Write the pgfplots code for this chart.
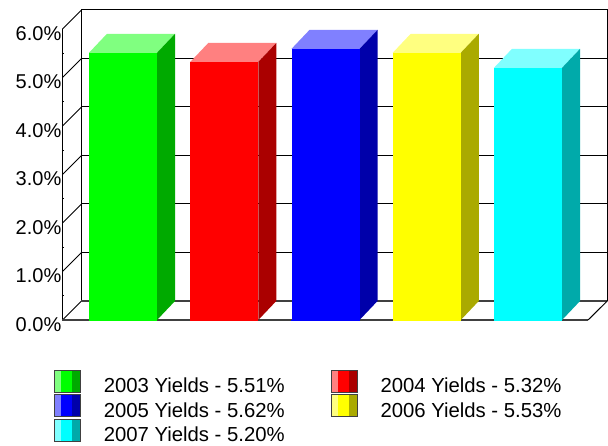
\documentclass[border=0pt]{standalone}
\usepackage{fontspec}
\setmainfont{Liberation Sans}
\usepackage{pgfplots}
\pgfplotsset{compat=1.18}

\definecolor{gF}{RGB}{0,255,0}\definecolor{gT}{RGB}{128,255,128}\definecolor{gS}{RGB}{0,170,0}
\definecolor{rF}{RGB}{255,0,0}\definecolor{rT}{RGB}{255,128,128}\definecolor{rS}{RGB}{170,0,0}
\definecolor{bF}{RGB}{0,0,255}\definecolor{bT}{RGB}{128,128,255}\definecolor{bS}{RGB}{0,0,170}
\definecolor{yF}{RGB}{255,255,0}\definecolor{yT}{RGB}{255,255,128}\definecolor{yS}{RGB}{170,170,0}
\definecolor{cF}{RGB}{0,255,255}\definecolor{cT}{RGB}{128,255,255}\definecolor{cS}{RGB}{0,170,170}

% legend swatch: light, pure and dark stripe
\pgfplotsset{
  swatch/.style n args={3}{
    legend image code/.code={
      \fill[fill=#1] (0pt,-6pt) rectangle (7pt,16pt);
      \fill[fill=#2] (7pt,-6pt) rectangle (18pt,16pt);
      \fill[fill=#3] (18pt,-6pt) rectangle (26pt,16pt);
      \draw[draw=black!75,fill=none,line width=0.8pt] (0pt,-6pt) rectangle (26pt,16pt);
    }
  },
  face/.style={fill=#1,draw=none,forget plot},
  frameline/.style={black,line width=1pt,forget plot},
  floorline/.style={black!75,line width=1.5pt,forget plot},
}

\begin{document}
\begin{tikzpicture}
\path[use as bounding box] (-62.5pt,-125pt) rectangle (545.5pt,320pt);
\begin{axis}[
  at={(0pt,0pt)}, anchor=south west,
  scale only axis,
  width=544.8pt, height=310pt,
  xmin=-0.5975, xmax=4.783,
  ymin=0, ymax=6.392,
  clip=false,
  axis line style={draw=none},
  xtick=\empty,
  ytick={0,1,2,3,4,5,6},
  yticklabels={0.0\%,1.0\%,2.0\%,3.0\%,4.0\%,5.0\%,6.0\%},
  minor y tick num=1,
  ytick pos=left,
  tick align=inside,
  major tick length=0pt,
  minor tick length=2pt,
  minor tick style={black,line width=0.8pt},
  tick label style={font=\fontsize{20}{24}\selectfont},
  yticklabel style={inner xsep=0pt,xshift=-1pt,yshift=-4.5pt},
  legend columns=2,
  legend cell align=left,
  legend style={
    draw=none, fill=none,
    at={(-8.5pt,-49pt)}, anchor=north west,
    inner sep=0pt, outer sep=0pt,
    font=\fontsize{20.3}{24}\selectfont,
    nodes={inner sep=0pt},
    row sep=0pt,
    /tikz/column 1/.style={column sep=23pt},
    /tikz/column 2/.style={column sep=46pt},
    /tikz/column 3/.style={column sep=23pt},
  },
]
% back wall
\addplot[frameline] coordinates {(-0.4099,0.392)(-0.4099,6.392)(4.783,6.392)(4.783,0.392)};
\addplot[frameline] coordinates {(-0.4099,1.392)(4.783,1.392)};
\addplot[frameline] coordinates {(-0.4099,2.392)(4.783,2.392)};
\addplot[frameline] coordinates {(-0.4099,3.392)(4.783,3.392)};
\addplot[frameline] coordinates {(-0.4099,4.392)(4.783,4.392)};
\addplot[frameline] coordinates {(-0.4099,5.392)(4.783,5.392)};
% left wall
\addplot[frameline] coordinates {(-0.5975,0)(-0.5975,6)};
\addplot[frameline] coordinates {(-0.5975,0)(-0.4099,0.392)};
\addplot[frameline] coordinates {(-0.5975,1)(-0.4099,1.392)};
\addplot[frameline] coordinates {(-0.5975,2)(-0.4099,2.392)};
\addplot[frameline] coordinates {(-0.5975,3)(-0.4099,3.392)};
\addplot[frameline] coordinates {(-0.5975,4)(-0.4099,4.392)};
\addplot[frameline] coordinates {(-0.5975,5)(-0.4099,5.392)};
\addplot[frameline] coordinates {(-0.5975,6)(-0.4099,6.392)};
% floor
\addplot[floorline] coordinates {(-0.4099,0.392)(4.783,0.392)};
\addplot[floorline] coordinates {(-0.5975,0)(4.5926,0)};
\addplot[frameline] coordinates {(4.5926,0)(4.783,0.392)};

% bar heights as drawn in the picture: blue and yellow stand a little
% under their legend values (5.62 and 5.53)
% tops and sides
\addplot[face=gT] coordinates {(-0.336,5.51)(0.336,5.51)(0.514,5.902)(-0.158,5.902)} --cycle;
\addplot[face=gS] coordinates {(0.336,0)(0.514,0.392)(0.514,5.902)(0.336,5.51)} --cycle;
\addplot[face=rT] coordinates {(0.664,5.32)(1.336,5.32)(1.514,5.712)(0.842,5.712)} --cycle;
\addplot[face=rS] coordinates {(1.336,0)(1.514,0.392)(1.514,5.712)(1.336,5.32)} --cycle;
\addplot[face=bT] coordinates {(1.664,5.59)(2.336,5.59)(2.514,5.982)(1.842,5.982)} --cycle;
\addplot[face=bS] coordinates {(2.336,0)(2.514,0.392)(2.514,5.982)(2.336,5.59)} --cycle;
\addplot[face=yT] coordinates {(2.664,5.51)(3.336,5.51)(3.514,5.902)(2.842,5.902)} --cycle;
\addplot[face=yS] coordinates {(3.336,0)(3.514,0.392)(3.514,5.902)(3.336,5.51)} --cycle;
\addplot[face=cT] coordinates {(3.664,5.20)(4.336,5.20)(4.514,5.592)(3.842,5.592)} --cycle;
\addplot[face=cS] coordinates {(4.336,0)(4.514,0.392)(4.514,5.592)(4.336,5.20)} --cycle;

% fronts
\addplot[ybar,bar shift=0pt,bar width=68pt,fill=gF,draw=none,swatch={gT}{gF}{gS}] coordinates {(0,5.51)};
\addlegendentry{2003 Yields - 5.51\%}
\addplot[ybar,bar shift=0pt,bar width=68pt,fill=rF,draw=none,swatch={rT}{rF}{rS}] coordinates {(1,5.32)};
\addlegendentry{2004 Yields - 5.32\%}
\addplot[ybar,bar shift=0pt,bar width=68pt,fill=bF,draw=none,swatch={bT}{bF}{bS}] coordinates {(2,5.59)};
\addlegendentry{2005 Yields - 5.62\%}
\addplot[ybar,bar shift=0pt,bar width=68pt,fill=yF,draw=none,swatch={yT}{yF}{yS}] coordinates {(3,5.51)};
\addlegendentry{2006 Yields - 5.53\%}
\addplot[ybar,bar shift=0pt,bar width=68pt,fill=cF,draw=none,swatch={cT}{cF}{cS}] coordinates {(4,5.20)};
\addlegendentry{2007 Yields - 5.20\%}
% bars run a little below the floor line
\addplot[gF,line width=1.5pt,forget plot] coordinates {(-0.336,-0.015)(0.336,-0.015)};
\addplot[rF,line width=1.5pt,forget plot] coordinates {(0.664,-0.015)(1.336,-0.015)};
\addplot[bF,line width=1.5pt,forget plot] coordinates {(1.664,-0.015)(2.336,-0.015)};
\addplot[yF,line width=1.5pt,forget plot] coordinates {(2.664,-0.015)(3.336,-0.015)};
\addplot[cF,line width=1.5pt,forget plot] coordinates {(3.664,-0.015)(4.336,-0.015)};
\end{axis}
\end{tikzpicture}
\end{document}
